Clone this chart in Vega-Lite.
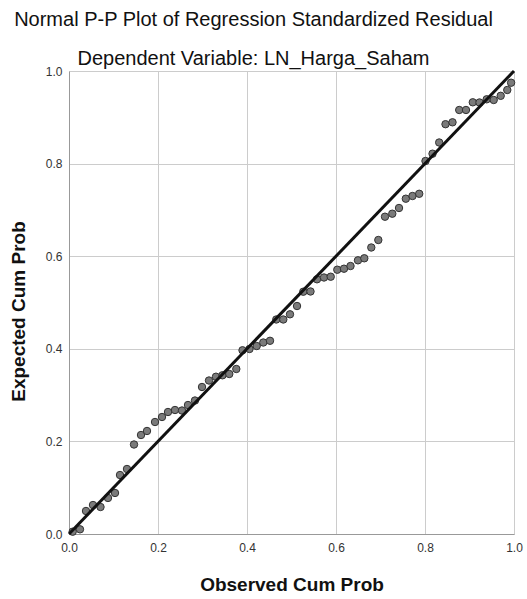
{
  "$schema": "https://vega.github.io/schema/vega-lite/v6.json",
  "width": 445,
  "height": 463,
  "autosize": {"type": "none"},
  "padding": {"left": 69, "top": 71, "right": 13, "bottom": 65},
  "background": "white",
  "title": {
    "text": "Normal P-P Plot of Regression Standardized Residual",
    "subtitle": "Dependent Variable: LN_Harga_Saham",
    "anchor": "middle",
    "frame": "group",
    "dx": -38,
    "offset": -4,
    "font": "Liberation Sans",
    "fontSize": 20,
    "fontWeight": "normal",
    "color": "#111111",
    "subtitleFont": "Liberation Sans",
    "subtitleFontSize": 20,
    "subtitleColor": "#111111",
    "subtitlePadding": 19
  },
  "config": {
    "view": {"stroke": null},
    "axis": {
      "labelFont": "Liberation Sans",
      "labelFontSize": 12,
      "labelColor": "#333333",
      "labelFlush": false,
      "titleFont": "Liberation Sans",
      "titleFontSize": 19,
      "titleFontWeight": "bold",
      "titleColor": "#111111",
      "gridColor": "#cccccc",
      "gridWidth": 1,
      "domainColor": "#999999",
      "ticks": false
    }
  },
  "layer": [
    {
      "data": {
        "values": [
          {"obs": 0.0083, "exp": 0.005},
          {"obs": 0.0247, "exp": 0.0101},
          {"obs": 0.0382, "exp": 0.0497},
          {"obs": 0.0539, "exp": 0.0626},
          {"obs": 0.0708, "exp": 0.0583},
          {"obs": 0.0876, "exp": 0.0778},
          {"obs": 0.1034, "exp": 0.0886},
          {"obs": 0.1146, "exp": 0.1274},
          {"obs": 0.1303, "exp": 0.1404},
          {"obs": 0.1461, "exp": 0.1933},
          {"obs": 0.1618, "exp": 0.2138},
          {"obs": 0.1753, "exp": 0.2225},
          {"obs": 0.1933, "exp": 0.2419},
          {"obs": 0.209, "exp": 0.2527},
          {"obs": 0.2225, "exp": 0.2635},
          {"obs": 0.2382, "exp": 0.2678},
          {"obs": 0.2539, "exp": 0.2667},
          {"obs": 0.2674, "exp": 0.2786},
          {"obs": 0.2831, "exp": 0.2883},
          {"obs": 0.2989, "exp": 0.3175},
          {"obs": 0.3146, "exp": 0.3315},
          {"obs": 0.3303, "exp": 0.3397},
          {"obs": 0.3449, "exp": 0.3428},
          {"obs": 0.3602, "exp": 0.3456},
          {"obs": 0.376, "exp": 0.3564},
          {"obs": 0.3899, "exp": 0.3968},
          {"obs": 0.4056, "exp": 0.3996},
          {"obs": 0.4218, "exp": 0.406},
          {"obs": 0.4366, "exp": 0.4136},
          {"obs": 0.4517, "exp": 0.4173},
          {"obs": 0.4658, "exp": 0.4633},
          {"obs": 0.4816, "exp": 0.4633},
          {"obs": 0.4966, "exp": 0.4745},
          {"obs": 0.5124, "exp": 0.4924},
          {"obs": 0.5265, "exp": 0.5233},
          {"obs": 0.5427, "exp": 0.5238},
          {"obs": 0.5573, "exp": 0.5501},
          {"obs": 0.573, "exp": 0.554},
          {"obs": 0.5881, "exp": 0.5557},
          {"obs": 0.6029, "exp": 0.5708},
          {"obs": 0.618, "exp": 0.573},
          {"obs": 0.6326, "exp": 0.5788},
          {"obs": 0.6494, "exp": 0.5911},
          {"obs": 0.6636, "exp": 0.5955},
          {"obs": 0.6793, "exp": 0.6188},
          {"obs": 0.6951, "exp": 0.635},
          {"obs": 0.7101, "exp": 0.6853},
          {"obs": 0.7265, "exp": 0.6918},
          {"obs": 0.7416, "exp": 0.7041},
          {"obs": 0.7569, "exp": 0.7242},
          {"obs": 0.7719, "exp": 0.73},
          {"obs": 0.787, "exp": 0.7348},
          {"obs": 0.8011, "exp": 0.8056},
          {"obs": 0.8169, "exp": 0.8214},
          {"obs": 0.8319, "exp": 0.8456},
          {"obs": 0.8461, "exp": 0.8851},
          {"obs": 0.8618, "exp": 0.8892},
          {"obs": 0.8769, "exp": 0.9158},
          {"obs": 0.8921, "exp": 0.9158},
          {"obs": 0.9074, "exp": 0.9324},
          {"obs": 0.9225, "exp": 0.932},
          {"obs": 0.9387, "exp": 0.9389},
          {"obs": 0.9544, "exp": 0.9374},
          {"obs": 0.9701, "exp": 0.9464},
          {"obs": 0.9849, "exp": 0.959},
          {"obs": 0.9935, "exp": 0.9747}
        ]
      },
      "mark": {"type": "point", "filled": true, "fill": "#7a7a7a", "stroke": "#333333", "strokeWidth": 1, "size": 55, "opacity": 1},
      "encoding": {
        "x": {
          "field": "obs", "type": "quantitative",
          "scale": {"domain": [0, 1], "nice": false, "zero": false},
          "axis": {"values": [0, 0.2, 0.4, 0.6, 0.8, 1.0], "format": ".1f", "title": "Observed Cum Prob", "labelPadding": 8, "titleY": 50, "titleBaseline": "middle"}
        },
        "y": {
          "field": "exp", "type": "quantitative",
          "scale": {"domain": [0, 1], "nice": false, "zero": false},
          "axis": {"values": [0, 0.2, 0.4, 0.6, 0.8, 1.0], "format": ".1f", "title": "Expected Cum Prob", "labelPadding": 7, "titleX": -51, "titleY": 240, "titleAngle": -90, "titleAlign": "center", "titleBaseline": "middle"}
        }
      }
    },
    {
      "data": {"values": [{"x0": 0, "y0": 0, "x1": 1, "y1": 1}]},
      "mark": {"type": "rule", "color": "#111111", "strokeWidth": 3},
      "encoding": {
        "x": {"field": "x0", "type": "quantitative"},
        "y": {"field": "y0", "type": "quantitative"},
        "x2": {"field": "x1"},
        "y2": {"field": "y1"}
      }
    }
  ]
}
